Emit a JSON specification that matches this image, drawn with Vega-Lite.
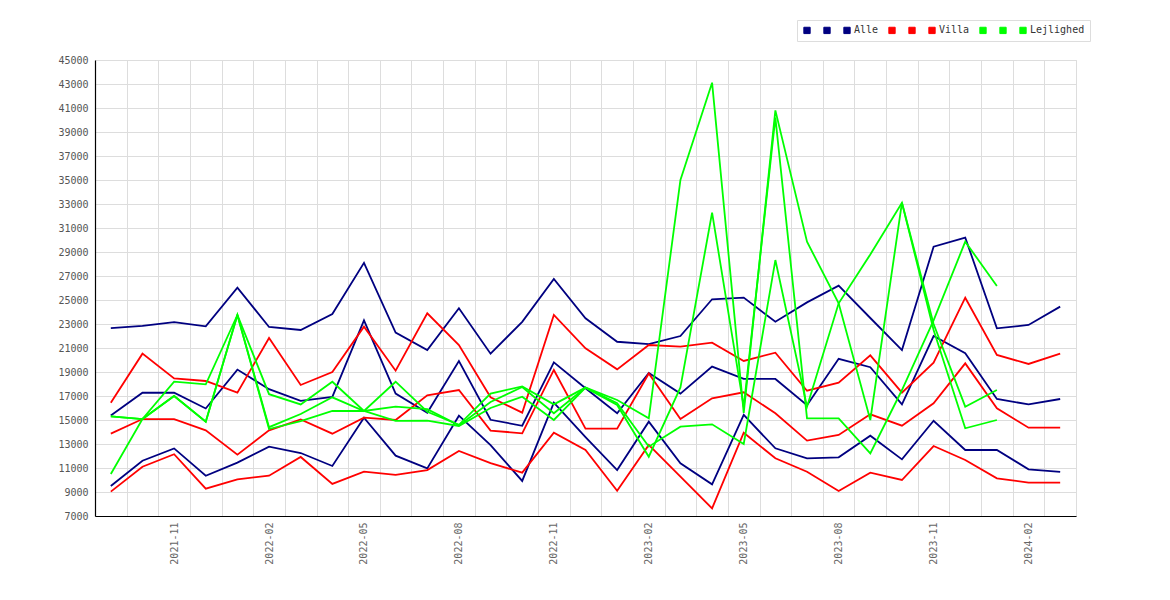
{
  "$schema": "https://vega.github.io/schema/vega-lite/v6.json",
  "width": 981,
  "height": 456,
  "autosize": {"type": "none"},
  "padding": {"left": 95, "top": 60, "right": 94, "bottom": 84},
  "background": "#ffffff",
  "config": {
    "view": {"stroke": "#dddddd"},
    "font": "DejaVu Sans Mono"
  },
  "data": {
    "values": [
      {"m":"2021-09","s":"Alle 1","v":22650},{"m":"2021-10","s":"Alle 1","v":22850},{"m":"2021-11","s":"Alle 1","v":23150},{"m":"2021-12","s":"Alle 1","v":22800},{"m":"2022-01","s":"Alle 1","v":26030},{"m":"2022-02","s":"Alle 1","v":22750},{"m":"2022-03","s":"Alle 1","v":22500},{"m":"2022-04","s":"Alle 1","v":23830},{"m":"2022-05","s":"Alle 1","v":28100},{"m":"2022-06","s":"Alle 1","v":22280},{"m":"2022-07","s":"Alle 1","v":20830},{"m":"2022-08","s":"Alle 1","v":24320},{"m":"2022-09","s":"Alle 1","v":20530},{"m":"2022-10","s":"Alle 1","v":23180},{"m":"2022-11","s":"Alle 1","v":26750},{"m":"2022-12","s":"Alle 1","v":23480},{"m":"2023-01","s":"Alle 1","v":21520},{"m":"2023-02","s":"Alle 1","v":21330},{"m":"2023-03","s":"Alle 1","v":22000},{"m":"2023-04","s":"Alle 1","v":25060},{"m":"2023-05","s":"Alle 1","v":25200},{"m":"2023-06","s":"Alle 1","v":23190},{"m":"2023-07","s":"Alle 1","v":24800},{"m":"2023-08","s":"Alle 1","v":26190},{"m":"2023-09","s":"Alle 1","v":23500},{"m":"2023-10","s":"Alle 1","v":20830},{"m":"2023-11","s":"Alle 1","v":29440},{"m":"2023-12","s":"Alle 1","v":30200},{"m":"2024-01","s":"Alle 1","v":22640},{"m":"2024-02","s":"Alle 1","v":22920},{"m":"2024-03","s":"Alle 1","v":24450},
      {"m":"2021-09","s":"Alle 2","v":15380},{"m":"2021-10","s":"Alle 2","v":17270},{"m":"2021-11","s":"Alle 2","v":17270},{"m":"2021-12","s":"Alle 2","v":15960},{"m":"2022-01","s":"Alle 2","v":19200},{"m":"2022-02","s":"Alle 2","v":17570},{"m":"2022-03","s":"Alle 2","v":16600},{"m":"2022-04","s":"Alle 2","v":16930},{"m":"2022-05","s":"Alle 2","v":23300},{"m":"2022-06","s":"Alle 2","v":17200},{"m":"2022-07","s":"Alle 2","v":15600},{"m":"2022-08","s":"Alle 2","v":19920},{"m":"2022-09","s":"Alle 2","v":15020},{"m":"2022-10","s":"Alle 2","v":14520},{"m":"2022-11","s":"Alle 2","v":19800},{"m":"2022-12","s":"Alle 2","v":17650},{"m":"2023-01","s":"Alle 2","v":15560},{"m":"2023-02","s":"Alle 2","v":18920},{"m":"2023-03","s":"Alle 2","v":17200},{"m":"2023-04","s":"Alle 2","v":19450},{"m":"2023-05","s":"Alle 2","v":18430},{"m":"2023-06","s":"Alle 2","v":18420},{"m":"2023-07","s":"Alle 2","v":16230},{"m":"2023-08","s":"Alle 2","v":20100},{"m":"2023-09","s":"Alle 2","v":19400},{"m":"2023-10","s":"Alle 2","v":16300},{"m":"2023-11","s":"Alle 2","v":22000},{"m":"2023-12","s":"Alle 2","v":20560},{"m":"2024-01","s":"Alle 2","v":16750},{"m":"2024-02","s":"Alle 2","v":16300},{"m":"2024-03","s":"Alle 2","v":16750},
      {"m":"2021-09","s":"Alle","v":9500},{"m":"2021-10","s":"Alle","v":11610},{"m":"2021-11","s":"Alle","v":12630},{"m":"2021-12","s":"Alle","v":10350},{"m":"2022-01","s":"Alle","v":11450},{"m":"2022-02","s":"Alle","v":12780},{"m":"2022-03","s":"Alle","v":12250},{"m":"2022-04","s":"Alle","v":11170},{"m":"2022-05","s":"Alle","v":15190},{"m":"2022-06","s":"Alle","v":12030},{"m":"2022-07","s":"Alle","v":10970},{"m":"2022-08","s":"Alle","v":15360},{"m":"2022-09","s":"Alle","v":12900},{"m":"2022-10","s":"Alle","v":9920},{"m":"2022-11","s":"Alle","v":16440},{"m":"2022-12","s":"Alle","v":13580},{"m":"2023-01","s":"Alle","v":10830},{"m":"2023-02","s":"Alle","v":14860},{"m":"2023-03","s":"Alle","v":11390},{"m":"2023-04","s":"Alle","v":9640},{"m":"2023-05","s":"Alle","v":15420},{"m":"2023-06","s":"Alle","v":12640},{"m":"2023-07","s":"Alle","v":11810},{"m":"2023-08","s":"Alle","v":11890},{"m":"2023-09","s":"Alle","v":13690},{"m":"2023-10","s":"Alle","v":11720},{"m":"2023-11","s":"Alle","v":14940},{"m":"2023-12","s":"Alle","v":12500},{"m":"2024-01","s":"Alle","v":12500},{"m":"2024-02","s":"Alle","v":10890},{"m":"2024-03","s":"Alle","v":10670},
      {"m":"2021-09","s":"Villa 1","v":16440},{"m":"2021-10","s":"Villa 1","v":20530},{"m":"2021-11","s":"Villa 1","v":18470},{"m":"2021-12","s":"Villa 1","v":18250},{"m":"2022-01","s":"Villa 1","v":17280},{"m":"2022-02","s":"Villa 1","v":21830},{"m":"2022-03","s":"Villa 1","v":17920},{"m":"2022-04","s":"Villa 1","v":19000},{"m":"2022-05","s":"Villa 1","v":22780},{"m":"2022-06","s":"Villa 1","v":19110},{"m":"2022-07","s":"Villa 1","v":23890},{"m":"2022-08","s":"Villa 1","v":21250},{"m":"2022-09","s":"Villa 1","v":16900},{"m":"2022-10","s":"Villa 1","v":15610},{"m":"2022-11","s":"Villa 1","v":23750},{"m":"2022-12","s":"Villa 1","v":20970},{"m":"2023-01","s":"Villa 1","v":19220},{"m":"2023-02","s":"Villa 1","v":21250},{"m":"2023-03","s":"Villa 1","v":21110},{"m":"2023-04","s":"Villa 1","v":21440},{"m":"2023-05","s":"Villa 1","v":19920},{"m":"2023-06","s":"Villa 1","v":20610},{"m":"2023-07","s":"Villa 1","v":17440},{"m":"2023-08","s":"Villa 1","v":18110},{"m":"2023-09","s":"Villa 1","v":20390},{"m":"2023-10","s":"Villa 1","v":17280},{"m":"2023-11","s":"Villa 1","v":19780},{"m":"2023-12","s":"Villa 1","v":25190},{"m":"2024-01","s":"Villa 1","v":20420},{"m":"2024-02","s":"Villa 1","v":19670},{"m":"2024-03","s":"Villa 1","v":20530},
      {"m":"2021-09","s":"Villa 2","v":13860},{"m":"2021-10","s":"Villa 2","v":15080},{"m":"2021-11","s":"Villa 2","v":15080},{"m":"2021-12","s":"Villa 2","v":14140},{"m":"2022-01","s":"Villa 2","v":12110},{"m":"2022-02","s":"Villa 2","v":14140},{"m":"2022-03","s":"Villa 2","v":15050},{"m":"2022-04","s":"Villa 2","v":13860},{"m":"2022-05","s":"Villa 2","v":15190},{"m":"2022-06","s":"Villa 2","v":15000},{"m":"2022-07","s":"Villa 2","v":17060},{"m":"2022-08","s":"Villa 2","v":17500},{"m":"2022-09","s":"Villa 2","v":14120},{"m":"2022-10","s":"Villa 2","v":13890},{"m":"2022-11","s":"Villa 2","v":19170},{"m":"2022-12","s":"Villa 2","v":14280},{"m":"2023-01","s":"Villa 2","v":14280},{"m":"2023-02","s":"Villa 2","v":18880},{"m":"2023-03","s":"Villa 2","v":15080},{"m":"2023-04","s":"Villa 2","v":16810},{"m":"2023-05","s":"Villa 2","v":17310},{"m":"2023-06","s":"Villa 2","v":15560},{"m":"2023-07","s":"Villa 2","v":13280},{"m":"2023-08","s":"Villa 2","v":13750},{"m":"2023-09","s":"Villa 2","v":15470},{"m":"2023-10","s":"Villa 2","v":14530},{"m":"2023-11","s":"Villa 2","v":16390},{"m":"2023-12","s":"Villa 2","v":19720},{"m":"2024-01","s":"Villa 2","v":15970},{"m":"2024-02","s":"Villa 2","v":14360},{"m":"2024-03","s":"Villa 2","v":14360},
      {"m":"2021-09","s":"Villa","v":9030},{"m":"2021-10","s":"Villa","v":11110},{"m":"2021-11","s":"Villa","v":12150},{"m":"2021-12","s":"Villa","v":9280},{"m":"2022-01","s":"Villa","v":10060},{"m":"2022-02","s":"Villa","v":10360},{"m":"2022-03","s":"Villa","v":11920},{"m":"2022-04","s":"Villa","v":9670},{"m":"2022-05","s":"Villa","v":10690},{"m":"2022-06","s":"Villa","v":10420},{"m":"2022-07","s":"Villa","v":10830},{"m":"2022-08","s":"Villa","v":12420},{"m":"2022-09","s":"Villa","v":11400},{"m":"2022-10","s":"Villa","v":10610},{"m":"2022-11","s":"Villa","v":13940},{"m":"2022-12","s":"Villa","v":12500},{"m":"2023-01","s":"Villa","v":9110},{"m":"2023-02","s":"Villa","v":12920},{"m":"2023-03","s":"Villa","v":10280},{"m":"2023-04","s":"Villa","v":7640},{"m":"2023-05","s":"Villa","v":13940},{"m":"2023-06","s":"Villa","v":11810},{"m":"2023-07","s":"Villa","v":10690},{"m":"2023-08","s":"Villa","v":9080},{"m":"2023-09","s":"Villa","v":10610},{"m":"2023-10","s":"Villa","v":10000},{"m":"2023-11","s":"Villa","v":12830},{"m":"2023-12","s":"Villa","v":11670},{"m":"2024-01","s":"Villa","v":10140},{"m":"2024-02","s":"Villa","v":9780},{"m":"2024-03","s":"Villa","v":9780},
      {"m":"2021-09","s":"Lejlighed 1","v":15300},{"m":"2021-10","s":"Lejlighed 1","v":15080},{"m":"2021-11","s":"Lejlighed 1","v":17000},{"m":"2021-12","s":"Lejlighed 1","v":14860},{"m":"2022-01","s":"Lejlighed 1","v":23750},{"m":"2022-02","s":"Lejlighed 1","v":17150},{"m":"2022-03","s":"Lejlighed 1","v":16300},{"m":"2022-04","s":"Lejlighed 1","v":18190},{"m":"2022-05","s":"Lejlighed 1","v":15750},{"m":"2022-06","s":"Lejlighed 1","v":18190},{"m":"2022-07","s":"Lejlighed 1","v":15690},{"m":"2022-08","s":"Lejlighed 1","v":14600},{"m":"2022-09","s":"Lejlighed 1","v":17200},{"m":"2022-10","s":"Lejlighed 1","v":17800},{"m":"2022-11","s":"Lejlighed 1","v":16300},{"m":"2022-12","s":"Lejlighed 1","v":17700},{"m":"2023-01","s":"Lejlighed 1","v":16670},{"m":"2023-02","s":"Lejlighed 1","v":15140},{"m":"2023-03","s":"Lejlighed 1","v":35000},{"m":"2023-04","s":"Lejlighed 1","v":43110},{"m":"2023-05","s":"Lejlighed 1","v":15600},{"m":"2023-06","s":"Lejlighed 1","v":40800},{"m":"2023-07","s":"Lejlighed 1","v":29860},{"m":"2023-08","s":"Lejlighed 1","v":24720},{"m":"2023-09","s":"Lejlighed 1","v":15000},{"m":"2023-10","s":"Lejlighed 1","v":33110},{"m":"2023-11","s":"Lejlighed 1","v":23000},{"m":"2023-12","s":"Lejlighed 1","v":16110},{"m":"2024-01","s":"Lejlighed 1","v":17500},
      {"m":"2021-09","s":"Lejlighed 2","v":15300},{"m":"2021-10","s":"Lejlighed 2","v":15080},{"m":"2021-11","s":"Lejlighed 2","v":17000},{"m":"2021-12","s":"Lejlighed 2","v":14860},{"m":"2022-01","s":"Lejlighed 2","v":23750},{"m":"2022-02","s":"Lejlighed 2","v":14400},{"m":"2022-03","s":"Lejlighed 2","v":15500},{"m":"2022-04","s":"Lejlighed 2","v":16890},{"m":"2022-05","s":"Lejlighed 2","v":15750},{"m":"2022-06","s":"Lejlighed 2","v":16110},{"m":"2022-07","s":"Lejlighed 2","v":15900},{"m":"2022-08","s":"Lejlighed 2","v":14550},{"m":"2022-09","s":"Lejlighed 2","v":16500},{"m":"2022-10","s":"Lejlighed 2","v":17750},{"m":"2022-11","s":"Lejlighed 2","v":15560},{"m":"2022-12","s":"Lejlighed 2","v":17700},{"m":"2023-01","s":"Lejlighed 2","v":16400},{"m":"2023-02","s":"Lejlighed 2","v":12780},{"m":"2023-03","s":"Lejlighed 2","v":14440},{"m":"2023-04","s":"Lejlighed 2","v":14640},{"m":"2023-05","s":"Lejlighed 2","v":13000},{"m":"2023-06","s":"Lejlighed 2","v":28330},{"m":"2023-07","s":"Lejlighed 2","v":16110},{"m":"2023-08","s":"Lejlighed 2","v":24720},{"m":"2023-09","s":"Lejlighed 2","v":28800},{"m":"2023-10","s":"Lejlighed 2","v":33110},{"m":"2023-11","s":"Lejlighed 2","v":22500},{"m":"2023-12","s":"Lejlighed 2","v":14310},{"m":"2024-01","s":"Lejlighed 2","v":15000},
      {"m":"2021-09","s":"Lejlighed","v":10500},{"m":"2021-10","s":"Lejlighed","v":15080},{"m":"2021-11","s":"Lejlighed","v":18190},{"m":"2021-12","s":"Lejlighed","v":17970},{"m":"2022-01","s":"Lejlighed","v":23750},{"m":"2022-02","s":"Lejlighed","v":14250},{"m":"2022-03","s":"Lejlighed","v":14900},{"m":"2022-04","s":"Lejlighed","v":15750},{"m":"2022-05","s":"Lejlighed","v":15750},{"m":"2022-06","s":"Lejlighed","v":14920},{"m":"2022-07","s":"Lejlighed","v":14950},{"m":"2022-08","s":"Lejlighed","v":14500},{"m":"2022-09","s":"Lejlighed","v":16000},{"m":"2022-10","s":"Lejlighed","v":16940},{"m":"2022-11","s":"Lejlighed","v":15000},{"m":"2022-12","s":"Lejlighed","v":17700},{"m":"2023-01","s":"Lejlighed","v":16250},{"m":"2023-02","s":"Lejlighed","v":11940},{"m":"2023-03","s":"Lejlighed","v":17720},{"m":"2023-04","s":"Lejlighed","v":32280},{"m":"2023-05","s":"Lejlighed","v":16100},{"m":"2023-06","s":"Lejlighed","v":40200},{"m":"2023-07","s":"Lejlighed","v":15140},{"m":"2023-08","s":"Lejlighed","v":15140},{"m":"2023-09","s":"Lejlighed","v":12220},{"m":"2023-10","s":"Lejlighed","v":17500},{"m":"2023-11","s":"Lejlighed","v":23300},{"m":"2023-12","s":"Lejlighed","v":29860},{"m":"2024-01","s":"Lejlighed","v":26170}
    ]
  },
  "mark": {"type": "line", "strokeWidth": 1.8},
  "encoding": {
    "x": {
      "field": "m",
      "type": "ordinal",
      "scale": {"type": "band", "paddingInner": 0, "paddingOuter": 0},
      "axis": {
        "title": null,
        "tickBand": "extent",
        "ticks": false,
        "grid": true,
        "gridColor": "#dddddd",
        "gridWidth": 1,
        "domainColor": "#000000",
        "domainWidth": 1.2,
        "labelAngle": -90,
        "labelOverlap": false,
        "labelPadding": 6,
        "labelFont": "DejaVu Sans Mono",
        "labelFontSize": 10,
        "labelColor": "#666666",
        "labelExpr": "indexof(['11','02','05','08'], substring(datum.label, 5, 7)) >= 0 ? datum.label : ''"
      }
    },
    "y": {
      "field": "v",
      "type": "quantitative",
      "scale": {"domain": [7000, 45000], "nice": false, "zero": false},
      "axis": {
        "title": null,
        "values": [7000,9000,11000,13000,15000,17000,19000,21000,23000,25000,27000,29000,31000,33000,35000,37000,39000,41000,43000,45000],
        "format": "d",
        "ticks": false,
        "grid": true,
        "gridColor": "#dddddd",
        "gridWidth": 1,
        "domainColor": "#000000",
        "domainWidth": 1.2,
        "labelPadding": 7,
        "labelFont": "DejaVu Sans Mono",
        "labelFontSize": 10,
        "labelColor": "#555555"
      }
    },
    "color": {
      "field": "s",
      "type": "nominal",
      "scale": {
        "domain": ["Alle 1","Alle 2","Alle","Villa 1","Villa 2","Villa","Lejlighed 1","Lejlighed 2","Lejlighed"],
        "range": ["#000080","#000080","#000080","#ff0000","#ff0000","#ff0000","#00ff00","#00ff00","#00ff00"]
      },
      "legend": {
        "title": null,
        "orient": "none",
        "legendX": 702,
        "legendY": -40,
        "direction": "horizontal",
        "symbolType": "square",
        "symbolSize": 40,
        "symbolStrokeWidth": 1,
        "labelFont": "DejaVu Sans Mono",
        "labelFontSize": 10,
        "labelColor": "#333333",
        "labelOffset": 2,
        "columnPadding": 7,
        "padding": 5,
        "strokeColor": "#dddddd",
        "fillColor": "#ffffff",
        "labelExpr": "indexof(['Alle','Villa','Lejlighed'], datum.label) >= 0 ? datum.label : ''",
        "encode": {
          "symbols": {
            "update": {
              "fill": {"signal": "scale('color', datum.value)"},
              "stroke": {"value": "#666666"}
            }
          }
        }
      }
    }
  }
}
